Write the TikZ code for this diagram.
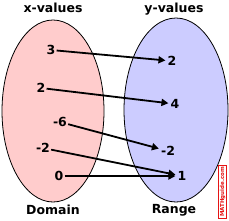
\documentclass[tikz,border=0pt]{standalone}
\usepackage{fontspec}
\setmainfont{DejaVu Sans}
\usetikzlibrary{arrows.meta}
\definecolor{dompink}{RGB}{255,204,204}
\definecolor{ranblue}{RGB}{204,204,255}
\definecolor{wmred}{RGB}{230,20,20}
\begin{document}
\begin{tikzpicture}[x=1pt,y=-1pt,
  lbl/.style={font=\bfseries\fontsize{12.5}{14}\selectfont, inner sep=1pt},
  val/.style={font=\bfseries\fontsize{12.5}{14}\selectfont, inner sep=1pt},
  maparrow/.style={line width=1.8pt, -{Triangle[length=7pt,width=7pt]}, shorten >=1pt}]
\useasboundingbox (0,0) rectangle (229,220);
\fill[white] (0,0) rectangle (229,220);
\draw[fill=dompink, line width=0.8pt] (53,111) ellipse [x radius=51, y radius=91];
\draw[fill=ranblue, line width=0.8pt] (176,110) ellipse [x radius=52, y radius=92];
\node[lbl] (xv) at (53,8) {x-values};
\node[lbl] (yv) at (174,9) {y-values};
\node[lbl] (dom) at (53,210) {Domain};
\node[lbl] (rng) at (174,210) {Range};
\node[val] (a3) at (51,50) {3};
\node[val] (a2) at (41,88) {2};
\node[val] (a6) at (60,122) {-6};
\node[val] (am2) at (43,148) {-2};
\node[val] (a0) at (59,176) {0};
\node[val] (b2) at (172,61) {2};
\node[val] (b4) at (175,104) {4};
\node[val] (bm2) at (168,151) {-2};
\node[val] (b1) at (182,176) {1};
\draw[maparrow] (a3) -- (b2);
\draw[maparrow] (a2) -- (b4);
\draw[maparrow] (a6) -- (bm2);
\draw[maparrow] (am2) -- (b1);
\draw[maparrow] (a0) -- (b1);
\node[draw=wmred, line width=0.7pt, fill=white, text=wmred, rotate=90, inner sep=1.2pt,
  font=\bfseries\fontsize{5.5}{6}\selectfont] (wm) at (222.5,192) {MATHguide.com};
\end{tikzpicture}
\end{document}
